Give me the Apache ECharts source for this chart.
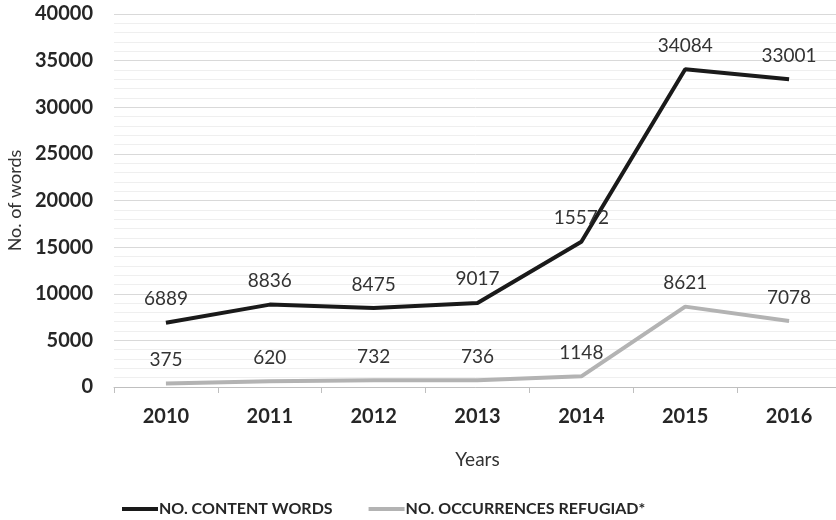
<!DOCTYPE html>
<html>
<head>
<meta charset="utf-8">
<script src="https://cdn.jsdelivr.net/npm/echarts@6/dist/echarts.min.js"></script>
<style>html,body{margin:0;padding:0;background:#fff;}#c{width:836px;height:520px;}</style>
</head>
<body>
<div id="c"></div>
<script>
const years = ['2010','2011','2012','2013','2014','2015','2016'];
const contentWords = [6889, 8836, 8475, 9017, 15572, 34084, 33001];
const refugiadOcc = [375, 620, 732, 736, 1148, 8621, 7078];
const seriesNames = ['NO. CONTENT WORDS', 'NO. OCCURRENCES REFUGIAD*'];

const chart = echarts.init(document.getElementById('c'));
const font = 'Lato, "Open Sans", sans-serif';
chart.setOption({
  animation: false,
  grid: {left: 114, top: 14, width: 727, height: 373, containLabel: false, outerBoundsMode: 'none'},
  legend: {
    left: 117, top: 496,
    itemWidth: 36, itemHeight: 4, itemGap: 36,
    icon: 'rect',
    textStyle: {fontFamily: font, fontSize: 16, fontWeight: 'bold', color: '#262626', padding: [0,0,0,-4]},
    data: seriesNames
  },
  xAxis: {
    type: 'category', data: years, boundaryGap: true,
    axisLine: {lineStyle: {color: '#bfbfbf', width: 1}},
    axisTick: {show: true, length: 6, lineStyle: {color: '#bfbfbf'}},
    axisLabel: {fontFamily: font, fontSize: 20, fontWeight: 'bold', color: '#262626', margin: 20},
    name: 'Years', nameLocation: 'middle', nameGap: 63,
    nameTextStyle: {fontFamily: font, fontSize: 19, color: '#333333'}
  },
  yAxis: {
    type: 'value', min: 0, max: 40000, interval: 5000,
    axisLine: {show: false}, axisTick: {show: false},
    splitLine: {lineStyle: {color: '#d9d9d9', width: 1}},
    minorTick: {show: false, splitNumber: 5},
    minorSplitLine: {show: true, lineStyle: {color: '#efefef', width: 1}},
    axisLabel: {fontFamily: font, fontSize: 20, fontWeight: 'bold', color: '#262626', margin: 21,
      formatter: v => String(v)},
    name: 'No. of words', nameLocation: 'middle', nameGap: 89, nameRotate: 90,
    nameTextStyle: {fontFamily: font, fontSize: 18, color: '#333333'}
  },
  series: [
    {
      name: seriesNames[0], type: 'line', data: contentWords,
      symbol: 'circle', symbolSize: 0.1,
      lineStyle: {color: '#1a1a1a', width: 4},
      itemStyle: {color: '#1a1a1a'},
      label: {show: true, position: 'top', distance: 14, fontFamily: font, fontSize: 19, color: '#333333'}
    },
    {
      name: seriesNames[1], type: 'line', data: refugiadOcc,
      symbol: 'circle', symbolSize: 0.1,
      lineStyle: {color: '#b3b3b3', width: 4},
      itemStyle: {color: '#b3b3b3'},
      label: {show: true, position: 'top', distance: 14, fontFamily: font, fontSize: 19, color: '#333333'}
    }
  ]
});
</script>
</body>
</html>
